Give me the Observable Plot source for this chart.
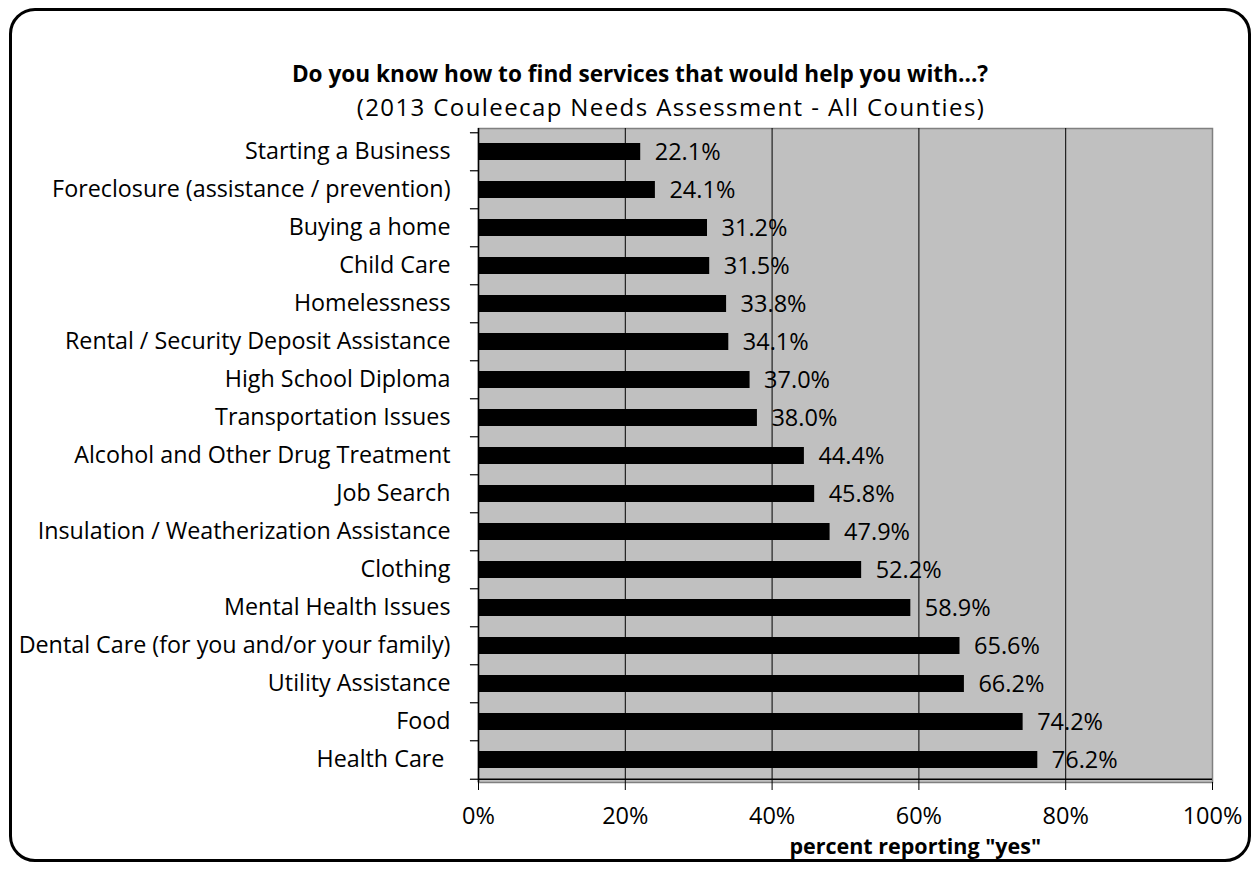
<!DOCTYPE html>
<html>
<head>
<meta charset="utf-8">
<script src="https://cdn.jsdelivr.net/npm/d3@7"></script>
<script src="https://cdn.jsdelivr.net/npm/@observablehq/plot@0.6"></script>
<style>
  html, body { margin: 0; padding: 0; background: #fff; }
  #wrap { position: relative; width: 1258px; height: 869px; overflow: hidden; font-family: "Open Sans", sans-serif; }
  #frame { position: absolute; left: 9px; top: 8px; width: 1236px; height: 848px; border: 3px solid #000; border-radius: 26px; box-sizing: content-box; }
  #title { position: absolute; left: 0; width: 1258px; top: 59px; text-align: center; font-size: 22.6px; font-weight: bold; color: #000; padding-left: 22px; box-sizing: border-box; white-space: nowrap; line-height: 1.3;}
  #subtitle { position: absolute; left: 0; width: 1258px; top: 91px; text-align: center; font-size: 24px; letter-spacing: 1.4px; color: #000; padding-left: 84px; box-sizing: border-box; white-space: nowrap; line-height: 1.3;}
  #chart { position: absolute; left: 0; top: 0; }
</style>
</head>
<body>
<div id="wrap">
  <div id="frame"></div>
  <div id="title">Do you know how to find services that would help you with...?</div>
  <div id="subtitle">(2013 Couleecap Needs Assessment - All Counties)</div>
  <div id="chart"></div>
</div>
<script>
const categories = [
  "Starting a Business",
  "Foreclosure (assistance / prevention)",
  "Buying a home",
  "Child Care",
  "Homelessness",
  "Rental / Security Deposit Assistance",
  "High School Diploma",
  "Transportation Issues",
  "Alcohol and Other Drug Treatment",
  "Job Search",
  "Insulation / Weatherization Assistance",
  "Clothing",
  "Mental Health Issues",
  "Dental Care (for you and/or your family)",
  "Utility Assistance",
  "Food",
  "Health Care "
];
const values = [22.1, 24.1, 31.2, 31.5, 33.8, 34.1, 37.0, 38.0, 44.4, 45.8, 47.9, 52.2, 58.9, 65.6, 66.2, 74.2, 76.2];
const xTicks = [0, 20, 40, 60, 80, 100];
const xLabel = 'percent reporting "yes"';

const data = categories.map((c, i) => ({category: c, value: values[i] / 100}));

const W = 1258, H = 869;
const mTop = 128, mBottom = 87, mLeft = 478, mRight = 46;
const step = (H - mTop - mBottom) / categories.length;
const font = "'Open Sans', sans-serif";

const chart = Plot.plot({
  width: W,
  height: H,
  marginTop: mTop,
  marginBottom: mBottom,
  marginLeft: mLeft,
  marginRight: mRight,
  style: {fontFamily: font, fontSize: "23px", color: "#000", background: "transparent", overflow: "visible"},
  x: {domain: [0, 1]},
  y: {domain: categories, paddingInner: 0.56, paddingOuter: 0.28},
  marks: [
    Plot.frame({fill: "#c0c0c0", stroke: "#808080", strokeWidth: 1.5}),
    Plot.ruleX(xTicks.slice(1, -1).map(d => d / 100), {stroke: "#000", strokeWidth: 1}),
    Plot.barX(data, {x: "value", y: "category", fill: "#000"}),
    Plot.text(data, {x: "value", y: "category", text: d => (d.value * 100).toFixed(1) + "%", textAnchor: "start", dx: 14, fill: "#000", fontSize: 23.5}),
    Plot.ruleY(categories, {y: d => d, x1: -0.011, x2: 0, dy: -step / 2, stroke: "#000", strokeWidth: 1.2}),
    Plot.ruleY([categories[categories.length - 1]], {y: d => d, x1: -0.011, x2: 0, dy: step / 2, stroke: "#000", strokeWidth: 1.2}),
    Plot.ruleX([0], {stroke: "#000", strokeWidth: 1.5}),
    Plot.ruleY([categories[categories.length - 1]], {y: d => d, x1: 0, x2: 1, dy: step / 2, stroke: "#000", strokeWidth: 1.5}),
    Plot.axisY({tickSize: 0, tickPadding: 28, fontSize: 23.3, label: null}),
    Plot.axisX({ticks: xTicks.map(d => d / 100), tickFormat: d => Math.round(d * 100) + "%", tickSize: 8, tickPadding: 17, fontSize: 23.5, label: null, stroke: "#000"}),
    Plot.text([xLabel], {frameAnchor: "bottom", x: 0.595, dy: 71, text: d => d, fontWeight: "bold", fontSize: 21.5, fill: "#000"})
  ]
});
document.getElementById("chart").appendChild(chart);
</script>
</body>
</html>
